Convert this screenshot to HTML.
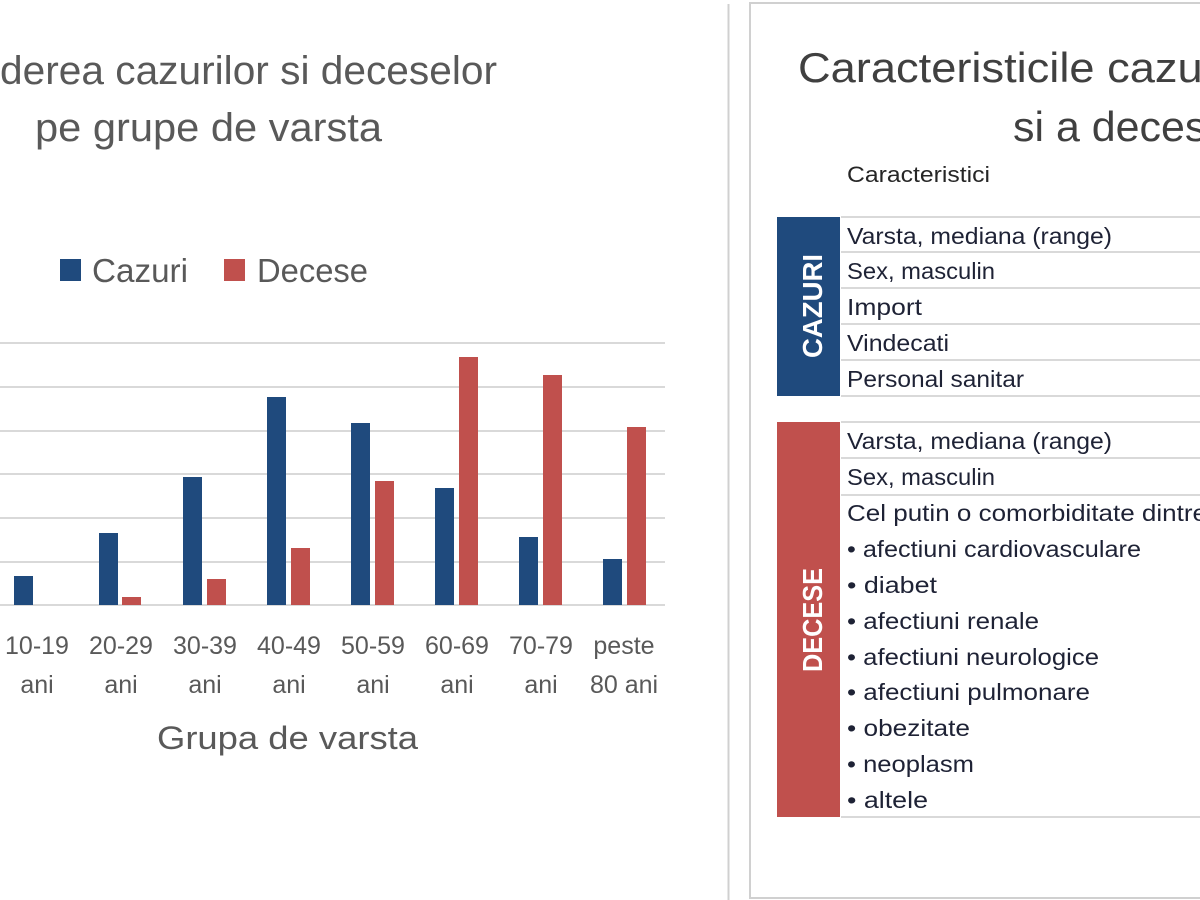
<!DOCTYPE html><html><head><style>body{margin:0;background:#fff}svg{display:block}</style></head><body>
<svg width="1200" height="900" xmlns="http://www.w3.org/2000/svg" font-family="Liberation Sans, sans-serif">
<rect width="1200" height="900" fill="#fff"/>
<line x1="728.5" y1="4" x2="728.5" y2="900" stroke="#d0d0d0" stroke-width="2"/>
<rect x="750" y="3" width="460" height="895" fill="none" stroke="#d0d0d0" stroke-width="2"/>
<g fill="#595959">
<text x="0" y="84" font-size="40" textLength="497" lengthAdjust="spacingAndGlyphs">derea cazurilor si deceselor</text>
<text x="35" y="141" font-size="40" textLength="347" lengthAdjust="spacingAndGlyphs">pe grupe de varsta</text>
<text x="157" y="749" font-size="32" textLength="261" lengthAdjust="spacingAndGlyphs">Grupa de varsta</text>
</g>
<rect x="60" y="259" width="21" height="22" fill="#1f4a7d"/>
<text x="92" y="282" font-size="33" fill="#595959" textLength="96" lengthAdjust="spacingAndGlyphs">Cazuri</text>
<rect x="224" y="259" width="21" height="22" fill="#c0504d"/>
<text x="257" y="282" font-size="33" fill="#595959" textLength="111" lengthAdjust="spacingAndGlyphs">Decese</text>
<g stroke="#d9d9d9" stroke-width="2">
<line x1="0" x2="665" y1="343" y2="343"/><line x1="0" x2="665" y1="387" y2="387"/><line x1="0" x2="665" y1="431" y2="431"/><line x1="0" x2="665" y1="474" y2="474"/><line x1="0" x2="665" y1="518" y2="518"/><line x1="0" x2="665" y1="562" y2="562"/><line x1="0" x2="665" y1="605" y2="605"/>
</g>
<g fill="#1f4a7d">
<rect x="14" y="576" width="19" height="29"/><rect x="99" y="533" width="19" height="72"/><rect x="183" y="477" width="19" height="128"/><rect x="267" y="397" width="19" height="208"/><rect x="351" y="423" width="19" height="182"/><rect x="435" y="488" width="19" height="117"/><rect x="519" y="537" width="19" height="68"/><rect x="603" y="559" width="19" height="46"/>
</g>
<g fill="#c0504d">
<rect x="122" y="597" width="19" height="8"/><rect x="207" y="579" width="19" height="26"/><rect x="291" y="548" width="19" height="57"/><rect x="375" y="481" width="19" height="124"/><rect x="459" y="357" width="19" height="248"/><rect x="543" y="375" width="19" height="230"/><rect x="627" y="427" width="19" height="178"/>
</g>
<g fill="#595959" font-size="25" text-anchor="middle">
<text x="37" y="654">10-19</text><text x="37" y="693">ani</text>
<text x="121" y="654">20-29</text><text x="121" y="693">ani</text>
<text x="205" y="654">30-39</text><text x="205" y="693">ani</text>
<text x="289" y="654">40-49</text><text x="289" y="693">ani</text>
<text x="373" y="654">50-59</text><text x="373" y="693">ani</text>
<text x="457" y="654">60-69</text><text x="457" y="693">ani</text>
<text x="541" y="654">70-79</text><text x="541" y="693">ani</text>
<text x="624" y="654">peste</text><text x="624" y="693">80 ani</text>
</g>
<text x="798" y="82" font-size="42" fill="#404040" textLength="480" lengthAdjust="spacingAndGlyphs">Caracteristicile cazurilor</text>
<text x="1013" y="141" font-size="42" fill="#404040" textLength="265" lengthAdjust="spacingAndGlyphs">si a deceselor</text>
<text x="847" y="182" font-size="22" fill="#262626" textLength="143" lengthAdjust="spacingAndGlyphs">Caracteristici</text>
<rect x="777" y="217" width="63" height="179" fill="#1f4a7d"/>
<rect x="777" y="422" width="63" height="395" fill="#c0504d"/>
<text transform="translate(822,306) rotate(-90)" text-anchor="middle" font-size="28" font-weight="bold" fill="#fff" textLength="104" lengthAdjust="spacingAndGlyphs">CAZURI</text>
<text transform="translate(822,620) rotate(-90)" text-anchor="middle" font-size="28" font-weight="bold" fill="#fff" textLength="104" lengthAdjust="spacingAndGlyphs">DECESE</text>
<g stroke="#d9d9d9" stroke-width="2">
<line x1="841" x2="1200" y1="217" y2="217"/><line x1="841" x2="1200" y1="252" y2="252"/><line x1="841" x2="1200" y1="288" y2="288"/><line x1="841" x2="1200" y1="324" y2="324"/><line x1="841" x2="1200" y1="360" y2="360"/><line x1="841" x2="1200" y1="396" y2="396"/>
<line x1="841" x2="1200" y1="422" y2="422"/><line x1="841" x2="1200" y1="458" y2="458"/><line x1="841" x2="1200" y1="495" y2="495"/><line x1="841" x2="1200" y1="817" y2="817"/>
</g>
<g font-size="23" fill="#1e2235" lengthAdjust="spacingAndGlyphs">
<text x="847" y="244" textLength="265" lengthAdjust="spacingAndGlyphs">Varsta, mediana (range)</text>
<text x="847" y="279" textLength="148" lengthAdjust="spacingAndGlyphs">Sex, masculin</text>
<text x="847" y="315" textLength="75" lengthAdjust="spacingAndGlyphs">Import</text>
<text x="847" y="351" textLength="102" lengthAdjust="spacingAndGlyphs">Vindecati</text>
<text x="847" y="387" textLength="177" lengthAdjust="spacingAndGlyphs">Personal sanitar</text>
<text x="847" y="449" textLength="265" lengthAdjust="spacingAndGlyphs">Varsta, mediana (range)</text>
<text x="847" y="485" textLength="148" lengthAdjust="spacingAndGlyphs">Sex, masculin</text>
<text x="847" y="521" textLength="360" lengthAdjust="spacingAndGlyphs">Cel putin o comorbiditate dintre</text>
<text x="847" y="557" textLength="294" lengthAdjust="spacingAndGlyphs">• afectiuni cardiovasculare</text>
<text x="847" y="593" textLength="90" lengthAdjust="spacingAndGlyphs">• diabet</text>
<text x="847" y="629" textLength="192" lengthAdjust="spacingAndGlyphs">• afectiuni renale</text>
<text x="847" y="665" textLength="252" lengthAdjust="spacingAndGlyphs">• afectiuni neurologice</text>
<text x="847" y="700" textLength="243" lengthAdjust="spacingAndGlyphs">• afectiuni pulmonare</text>
<text x="847" y="736" textLength="123" lengthAdjust="spacingAndGlyphs">• obezitate</text>
<text x="847" y="772" textLength="127" lengthAdjust="spacingAndGlyphs">• neoplasm</text>
<text x="847" y="808" textLength="81" lengthAdjust="spacingAndGlyphs">• altele</text>
</g>
</svg>
</body></html>
